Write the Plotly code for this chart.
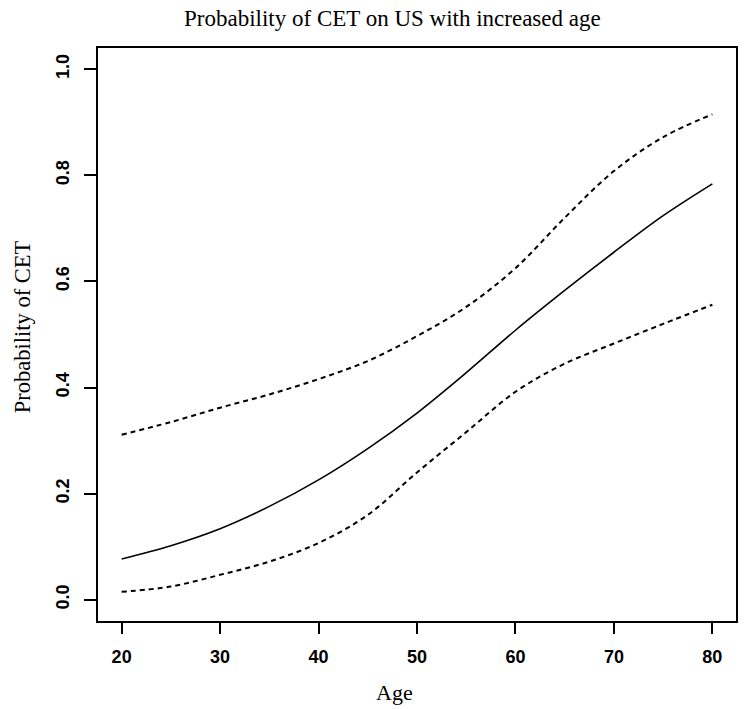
import plotly.graph_objects as go

# Data
age = [20, 25, 30, 35, 40, 45, 50, 55, 60, 65, 70, 75, 80]
prob_fit = [0.077, 0.102, 0.134, 0.176, 0.226, 0.285, 0.352, 0.428, 0.508, 0.583, 0.655, 0.724, 0.784]
prob_upper = [0.311, 0.335, 0.362, 0.387, 0.416, 0.450, 0.497, 0.552, 0.625, 0.720, 0.808, 0.872, 0.915]
prob_lower = [0.015, 0.025, 0.047, 0.072, 0.107, 0.160, 0.240, 0.316, 0.392, 0.445, 0.483, 0.520, 0.556]

x_ticks = [20, 30, 40, 50, 60, 70, 80]
y_ticks = [0.0, 0.2, 0.4, 0.6, 0.8, 1.0]
y_tick_text = ["0.0", "0.2", "0.4", "0.6", "0.8", "1.0"]

title_text = "Probability of CET on US with increased age"
x_title = "Age"
y_title = "Probability of CET"

fig = go.Figure()
fig.add_trace(go.Scatter(x=age, y=prob_fit, mode="lines",
                         line=dict(color="black", width=1.6, shape="spline", smoothing=1.0),
                         showlegend=False))
fig.add_trace(go.Scatter(x=age, y=prob_upper, mode="lines",
                         line=dict(color="black", width=2, dash="5px,4px", shape="spline", smoothing=1.0),
                         showlegend=False))
fig.add_trace(go.Scatter(x=age, y=prob_lower, mode="lines",
                         line=dict(color="black", width=2, dash="5px,4px", shape="spline", smoothing=1.0),
                         showlegend=False))

tick_font = dict(family="Liberation Sans, Arial, sans-serif", size=18, color="black", weight="bold")
serif = "Liberation Serif, Times New Roman, serif"

fig.update_xaxes(range=[17.6, 82.4], tickvals=x_ticks, ticks="outside", ticklen=11,
                 tickwidth=1.5, tickcolor="black", showline=True, linecolor="black",
                 linewidth=2, mirror=True, showgrid=False, zeroline=False,
                 tickfont=tick_font, ticklabelstandoff=7)
fig.update_yaxes(range=[-0.04, 1.04], tickvals=y_ticks, ticktext=y_tick_text,
                 ticks="outside", ticklen=12, tickwidth=1.5, tickcolor="black",
                 showline=True, linecolor="black", linewidth=2, mirror=True,
                 showgrid=False, zeroline=False, tickangle=-90, tickfont=tick_font,
                 ticklabelstandoff=8)

fig.add_annotation(text=title_text, xref="paper", yref="paper",
                   x=(393.5 - 98) / 640, y=(621 - 18) / 573, showarrow=False,
                   xanchor="center", yanchor="middle",
                   font=dict(family=serif, size=23, color="black"))
fig.add_annotation(text=x_title, xref="paper", yref="paper",
                   x=(395 - 98) / 640, y=(621 - 692) / 573, showarrow=False,
                   xanchor="center", yanchor="middle",
                   font=dict(family=serif, size=22, color="black"))
fig.add_annotation(text=y_title, xref="paper", yref="paper",
                   x=(22 - 98) / 640, y=(621 - 327) / 573, showarrow=False,
                   textangle=-90, xanchor="center", yanchor="middle",
                   font=dict(family=serif, size=22.5, color="black"))

fig.update_layout(width=750, height=709, autosize=False,
                  margin=dict(l=98, r=12, t=48, b=88),
                  plot_bgcolor="white", paper_bgcolor="white")

fig.write_html("out.html",
               config={"displayModeBar": False},
               post_script="document.body.style.margin='0px';document.body.style.padding='0px';document.body.style.overflow='hidden';")
